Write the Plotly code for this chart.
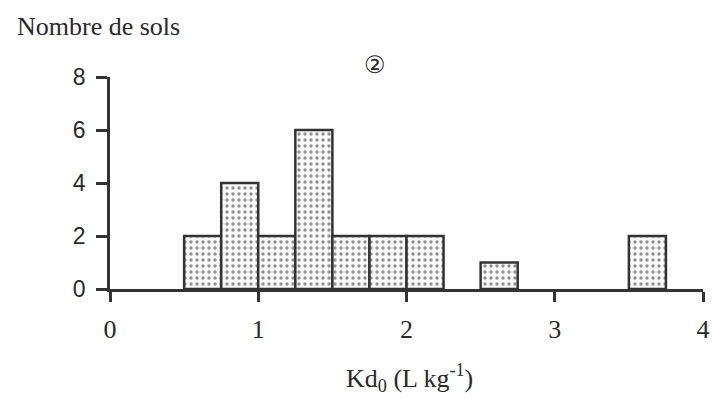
import plotly.graph_objects as go

bin_left = [0.5, 0.75, 1.0, 1.25, 1.5, 1.75, 2.0, 2.5, 3.5]
counts = [2, 4, 2, 6, 2, 2, 2, 1, 2]
bin_width = 0.25
x_ticks = [0, 1, 2, 3, 4]
y_ticks = [0, 2, 4, 6, 8]

centers = [b + bin_width / 2 for b in bin_left]

fig = go.Figure()
fig.add_trace(go.Bar(
    x=centers, y=counts, width=bin_width,
    marker=dict(
        color="white",
        line=dict(color="#333333", width=2.5),
        pattern=dict(shape=".", fgcolor="#2a2a2a", bgcolor="#f8f8f8", size=6, solidity=0.25),
    ),
    hoverinfo="skip",
))

serif = "Liberation Serif"
sans = "Liberation Sans"
L, R, T, B = 110, 9, 77, 110
PW, PH = 712 - L - R, 399 - T - B

fig.update_layout(
    width=712, height=399,
    margin=dict(l=L, r=R, t=T, b=B, autoexpand=False),
    paper_bgcolor="white", plot_bgcolor="white",
    showlegend=False,
    font=dict(family=serif, size=22, color="#333"),
    xaxis=dict(range=[0, 4], tickvals=x_ticks, ticks="outside", ticklen=10, tickwidth=2.5,
               tickcolor="#333", showline=True, linecolor="#333", linewidth=2.5,
               showgrid=False, zeroline=False, fixedrange=True, automargin=False,
               ticklabelstandoff=5,
               tickfont=dict(family=serif, size=26, color="#2a2a2a")),
    yaxis=dict(range=[0, 8], tickvals=y_ticks, ticks="outside", ticklen=11, tickwidth=2.5,
               tickcolor="#333", showline=True, linecolor="#333", linewidth=2.5,
               showgrid=False, zeroline=False, fixedrange=True, automargin=False,
               ticklabelstandoff=6,
               tickfont=dict(family=sans, size=23, color="#2a2a2a")),
    annotations=[
        dict(text="Nombre de sols", xref="paper", yref="paper", x=(15 - L) / PW, y=1 + (T - 26) / PH,
             xanchor="left", yanchor="middle", showarrow=False,
             font=dict(family=serif, size=26, color="#2a2a2a")),
        dict(text="②", xref="x", yref="paper", x=1.79, y=1 + (T - 65) / PH,
             xanchor="center", yanchor="middle", showarrow=False,
             font=dict(family="DejaVu Sans", size=24, color="#2a2a2a")),
        dict(text="Kd<sub>0</sub> (L kg<sup>-1</sup>)", xref="x", yref="paper", x=2.02,
             y=-(378 - (T + PH)) / PH,
             xanchor="center", yanchor="middle", showarrow=False,
             font=dict(family=serif, size=26, color="#2a2a2a")),
    ],
)
fig.write_html("out.html")
